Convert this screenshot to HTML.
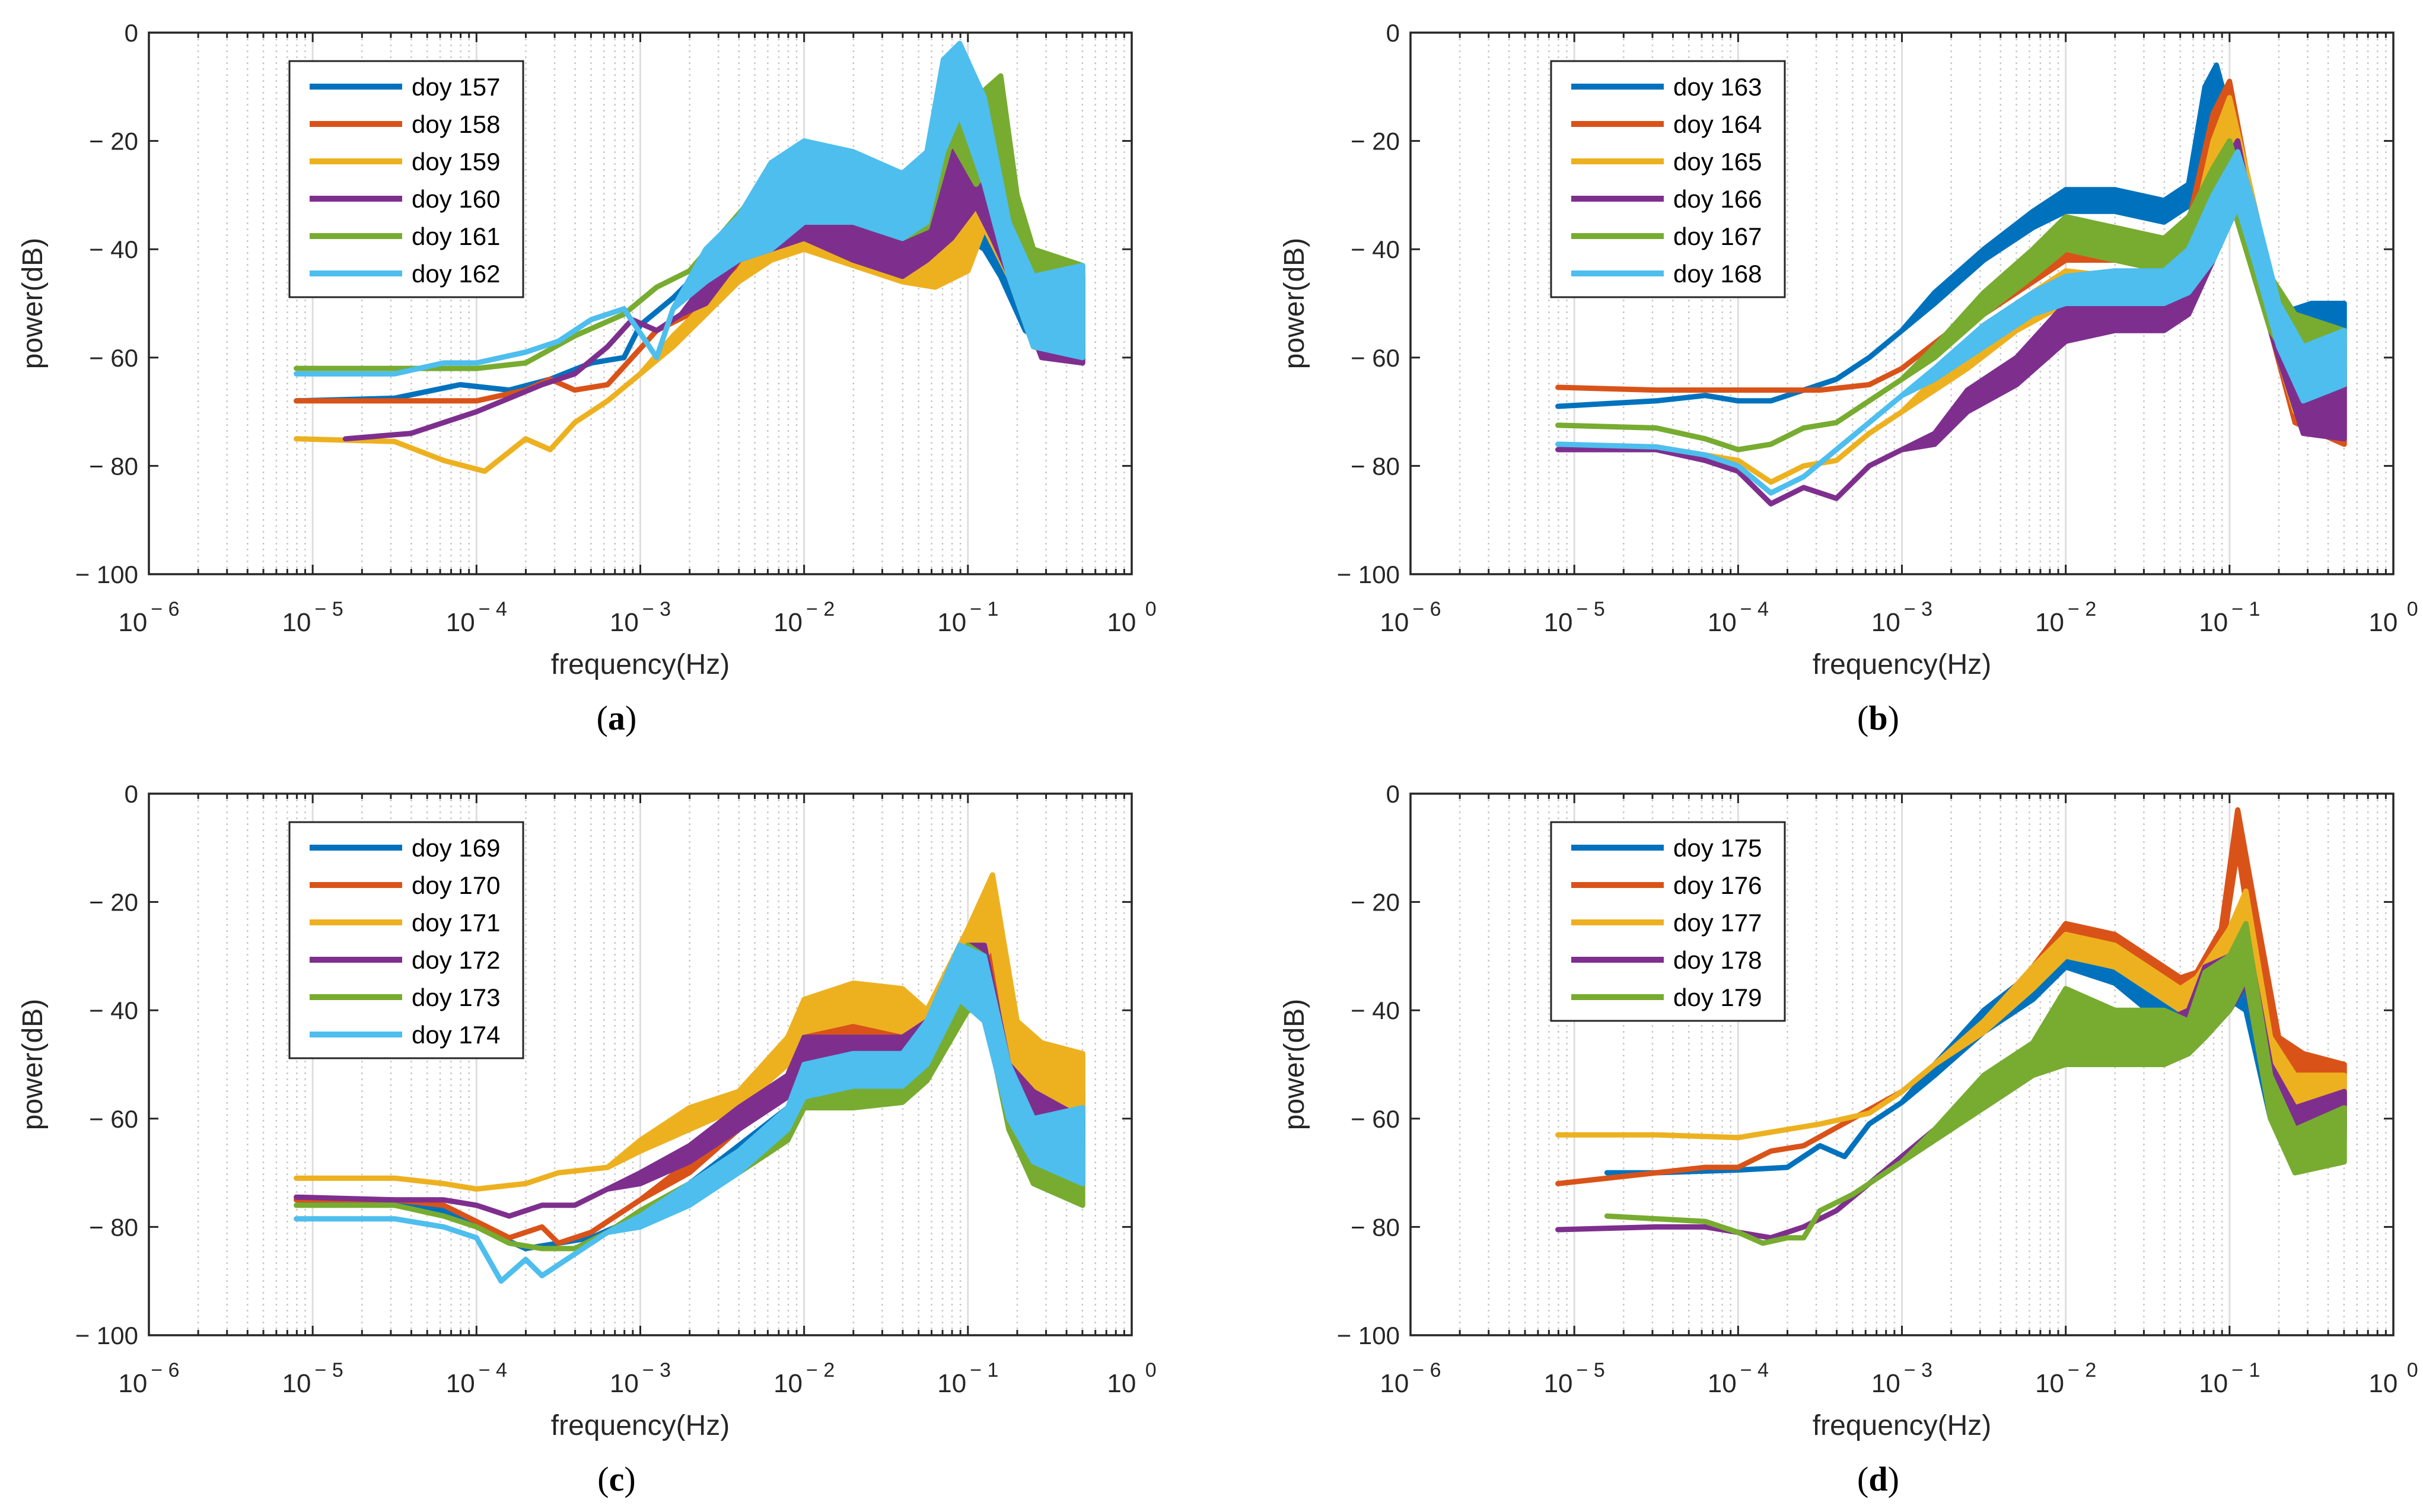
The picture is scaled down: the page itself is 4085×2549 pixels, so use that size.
<!DOCTYPE html>
<html><head><meta charset="utf-8"><style>
html,body{margin:0;padding:0;background:#fff;}
svg{display:block;}
text{font-family:"Liberation Sans",Arial,sans-serif;}
</style></head><body>
<svg id="fig" width="4085" height="2549" viewBox="0 0 4085 2549" xmlns="http://www.w3.org/2000/svg"></svg>
<script>
// Data: each series = list of [log10(freq), upper dB, lower dB]
const colors = ["#0072BD","#D95319","#EDB120","#7E2F8E","#77AC30","#4DBEEE"];
const xTickExps = [-6,-5,-4,-3,-2,-1,0];
const yTicks = [0,-20,-40,-60,-80,-100];
const panelLabels = ["(a)","(b)","(c)","(d)"];
const legendA = ["doy 157","doy 158","doy 159","doy 160","doy 161","doy 162"];
const legendB = ["doy 163","doy 164","doy 165","doy 166","doy 167","doy 168"];
const legendC = ["doy 169","doy 170","doy 171","doy 172","doy 173","doy 174"];
const legendD = ["doy 175","doy 176","doy 177","doy 178","doy 179"];

const seriesA = [
 [[-5.1,-68,-68],[-4.5,-67.5,-67.5],[-4.1,-65,-65],[-3.8,-66,-66],[-3.55,-64,-64],[-3.3,-61,-61],[-3.1,-60,-60],[-3.0,-54,-54],[-2.8,-49,-49],[-2.6,-43,-46],[-2.4,-34,-40],[-2.2,-24,-38],[-2.0,-24,-38],[-1.7,-26,-40],[-1.4,-30,-42],[-1.2,-28,-42],[-1.0,-26,-38],[-0.9,-30,-40],[-0.8,-38,-45],[-0.65,-42,-55],[-0.5,-45,-58],[-0.3,-45,-60]],
 [[-5.1,-68,-68],[-4.5,-68,-68],[-4.0,-68,-68],[-3.7,-66,-66],[-3.55,-64,-64],[-3.4,-66,-66],[-3.2,-65,-65],[-3.05,-60,-60],[-2.9,-55,-55],[-2.7,-52,-52],[-2.5,-44,-48],[-2.3,-34,-42],[-2.1,-28,-40],[-1.8,-28,-40],[-1.5,-30,-44],[-1.3,-32,-44],[-1.1,-28,-40],[-0.95,-22,-36],[-0.8,-20,-32],[-0.7,-35,-42],[-0.6,-45,-55],[-0.3,-45,-61]],
 [[-5.1,-75,-75],[-4.5,-75.5,-75.5],[-4.2,-79,-79],[-3.95,-81,-81],[-3.7,-75,-75],[-3.55,-77,-77],[-3.4,-72,-72],[-3.2,-68,-68],[-3.0,-63,-63],[-2.8,-56,-58],[-2.6,-50,-52],[-2.4,-44,-46],[-2.2,-35,-42],[-2.0,-30,-40],[-1.7,-32,-43],[-1.4,-36,-46],[-1.2,-36,-47],[-1.0,-30,-44],[-0.9,-26,-36],[-0.75,-35,-45],[-0.6,-45,-58],[-0.3,-45,-61]],
 [[-4.8,-75,-75],[-4.4,-74,-74],[-4.0,-70,-70],[-3.6,-65,-65],[-3.4,-63,-63],[-3.2,-58,-58],[-3.05,-53,-53],[-2.9,-55,-55],[-2.75,-52,-52],[-2.6,-46,-50],[-2.4,-36,-42],[-2.2,-28,-40],[-2.0,-26,-38],[-1.7,-28,-42],[-1.4,-32,-45],[-1.25,-28,-42],[-1.1,-22,-38],[-0.95,-20,-32],[-0.85,-28,-38],[-0.7,-40,-48],[-0.55,-45,-60],[-0.3,-45,-61]],
 [[-5.1,-62,-62],[-4.5,-62,-62],[-4.0,-62,-62],[-3.7,-61,-61],[-3.4,-56,-56],[-3.1,-52,-52],[-2.9,-47,-47],[-2.7,-44,-44],[-2.5,-37,-42],[-2.3,-30,-38],[-2.1,-24,-34],[-1.9,-22,-32],[-1.6,-25,-36],[-1.4,-28,-38],[-1.25,-24,-36],[-1.1,-8,-20],[-0.95,-12,-28],[-0.8,-8,-22],[-0.7,-30,-40],[-0.6,-40,-46],[-0.3,-43,-58]],
 [[-5.1,-63,-63],[-4.5,-63,-63],[-4.2,-61,-61],[-4.0,-61,-61],[-3.7,-59,-59],[-3.5,-57,-57],[-3.3,-53,-53],[-3.1,-51,-51],[-2.9,-60,-60],[-2.8,-51,-51],[-2.6,-40,-46],[-2.4,-34,-42],[-2.2,-24,-40],[-2.0,-20,-35],[-1.7,-22,-35],[-1.4,-26,-38],[-1.25,-22,-35],[-1.15,-5,-22],[-1.05,-2,-15],[-0.9,-12,-28],[-0.75,-35,-45],[-0.6,-45,-58],[-0.3,-43,-60]]
];
const seriesB = [
 [[-5.1,-69,-69],[-4.5,-68,-68],[-4.2,-67,-67],[-4.0,-68,-68],[-3.8,-68,-68],[-3.6,-66,-66],[-3.4,-64,-64],[-3.2,-60,-60],[-3.0,-55,-55],[-2.8,-48,-50],[-2.5,-40,-42],[-2.2,-33,-36],[-2.0,-29,-33],[-1.7,-29,-33],[-1.4,-31,-35],[-1.25,-28,-32],[-1.15,-10,-22],[-1.08,-6,-15],[-1.0,-15,-25],[-0.85,-35,-45],[-0.7,-52,-58],[-0.5,-50,-58],[-0.3,-50,-60]],
 [[-5.1,-65.5,-65.5],[-4.5,-66,-66],[-4.0,-66,-66],[-3.5,-66,-66],[-3.2,-65,-65],[-3.0,-62,-62],[-2.7,-55,-55],[-2.5,-50,-52],[-2.2,-42,-46],[-2.0,-36,-42],[-1.7,-36,-42],[-1.4,-38,-43],[-1.25,-35,-42],[-1.1,-15,-30],[-1.0,-9,-20],[-0.9,-25,-35],[-0.75,-45,-55],[-0.6,-58,-72],[-0.3,-58,-76]],
 [[-5.1,-77,-77],[-4.5,-77,-77],[-4.2,-78,-78],[-4.0,-79,-79],[-3.8,-83,-83],[-3.6,-80,-80],[-3.4,-79,-79],[-3.2,-74,-74],[-3.0,-70,-70],[-2.8,-64,-66],[-2.6,-58,-62],[-2.3,-50,-55],[-2.0,-44,-50],[-1.7,-45,-50],[-1.4,-46,-50],[-1.25,-40,-48],[-1.1,-20,-35],[-1.0,-12,-25],[-0.9,-25,-38],[-0.75,-45,-55],[-0.6,-55,-70],[-0.3,-55,-72]],
 [[-5.1,-77,-77],[-4.5,-77,-77],[-4.2,-79,-79],[-4.0,-81,-81],[-3.8,-87,-87],[-3.6,-84,-84],[-3.4,-86,-86],[-3.2,-80,-80],[-3.0,-77,-77],[-2.8,-74,-76],[-2.6,-66,-70],[-2.3,-60,-65],[-2.0,-50,-57],[-1.7,-50,-55],[-1.4,-50,-55],[-1.25,-45,-52],[-1.1,-28,-42],[-0.95,-20,-30],[-0.85,-35,-45],[-0.7,-50,-60],[-0.55,-62,-74],[-0.3,-62,-75]],
 [[-5.1,-72.5,-72.5],[-4.5,-73,-73],[-4.2,-75,-75],[-4.0,-77,-77],[-3.8,-76,-76],[-3.6,-73,-73],[-3.4,-72,-72],[-3.2,-68,-68],[-3.0,-64,-64],[-2.8,-58,-60],[-2.5,-48,-52],[-2.2,-40,-45],[-2.0,-34,-40],[-1.7,-36,-42],[-1.4,-38,-44],[-1.25,-34,-42],[-1.1,-25,-38],[-1.0,-20,-30],[-0.9,-30,-40],[-0.75,-45,-55],[-0.6,-52,-62],[-0.3,-55,-65]],
 [[-5.1,-76,-76],[-4.5,-76.5,-76.5],[-4.2,-78,-78],[-4.0,-80,-80],[-3.8,-85,-85],[-3.6,-82,-82],[-3.4,-77,-77],[-3.2,-72,-72],[-3.0,-67,-67],[-2.8,-62,-64],[-2.5,-54,-58],[-2.2,-48,-52],[-2.0,-45,-50],[-1.7,-44,-50],[-1.4,-44,-50],[-1.25,-40,-48],[-1.1,-30,-42],[-0.95,-22,-32],[-0.85,-32,-42],[-0.7,-50,-58],[-0.55,-58,-68],[-0.3,-55,-65]]
];
const seriesC = [
 [[-5.1,-75,-75],[-4.5,-75.5,-75.5],[-4.2,-77,-77],[-4.0,-80,-80],[-3.7,-84,-84],[-3.5,-83,-83],[-3.3,-82,-82],[-3.0,-78,-78],[-2.7,-72,-72],[-2.4,-65,-67],[-2.1,-58,-60],[-2.0,-52,-56],[-1.7,-48,-54],[-1.4,-48,-54],[-1.25,-44,-50],[-1.0,-28,-38],[-0.9,-30,-40],[-0.75,-52,-60],[-0.6,-55,-62],[-0.3,-55,-65]],
 [[-5.1,-75,-75],[-4.5,-75,-75],[-4.2,-76,-76],[-4.0,-79,-79],[-3.8,-82,-82],[-3.6,-80,-80],[-3.5,-83,-83],[-3.3,-81,-81],[-3.0,-75,-75],[-2.7,-68,-70],[-2.4,-60,-62],[-2.1,-52,-55],[-2.0,-44,-48],[-1.7,-41,-45],[-1.4,-44,-48],[-1.25,-42,-48],[-1.0,-25,-35],[-0.85,-22,-32],[-0.7,-45,-55],[-0.55,-47,-58],[-0.3,-48,-62]],
 [[-5.1,-71,-71],[-4.5,-71,-71],[-4.2,-72,-72],[-4.0,-73,-73],[-3.7,-72,-72],[-3.5,-70,-70],[-3.2,-69,-69],[-3.0,-64,-66],[-2.7,-58,-62],[-2.4,-55,-58],[-2.1,-45,-50],[-2.0,-38,-44],[-1.7,-35,-42],[-1.4,-36,-44],[-1.25,-40,-46],[-1.0,-25,-35],[-0.85,-15,-28],[-0.7,-42,-55],[-0.55,-46,-58],[-0.3,-48,-65]],
 [[-5.1,-74.5,-74.5],[-4.5,-75,-75],[-4.2,-75,-75],[-4.0,-76,-76],[-3.8,-78,-78],[-3.6,-76,-76],[-3.4,-76,-76],[-3.2,-73,-73],[-3.0,-70,-72],[-2.7,-65,-68],[-2.4,-58,-62],[-2.1,-52,-56],[-2.0,-45,-50],[-1.7,-45,-52],[-1.4,-45,-52],[-1.25,-42,-50],[-1.0,-28,-38],[-0.9,-28,-38],[-0.75,-50,-58],[-0.6,-55,-65],[-0.3,-60,-72]],
 [[-5.1,-76,-76],[-4.5,-76,-76],[-4.2,-78,-78],[-4.0,-80,-80],[-3.8,-83,-83],[-3.6,-84,-84],[-3.4,-84,-84],[-3.2,-81,-81],[-3.0,-77,-79],[-2.7,-72,-75],[-2.4,-66,-70],[-2.1,-60,-64],[-2.0,-53,-58],[-1.7,-52,-58],[-1.4,-52,-57],[-1.25,-45,-53],[-1.0,-28,-40],[-0.9,-30,-40],[-0.75,-55,-62],[-0.6,-62,-72],[-0.3,-65,-76]],
 [[-5.1,-78.5,-78.5],[-4.5,-78.5,-78.5],[-4.2,-80,-80],[-4.0,-82,-82],[-3.85,-90,-90],[-3.7,-86,-86],[-3.6,-89,-89],[-3.4,-85,-85],[-3.2,-81,-81],[-3.0,-78,-80],[-2.7,-72,-76],[-2.4,-66,-70],[-2.1,-58,-62],[-2.0,-50,-56],[-1.7,-48,-54],[-1.4,-48,-54],[-1.25,-42,-50],[-1.05,-28,-38],[-0.9,-30,-42],[-0.75,-50,-60],[-0.6,-60,-68],[-0.3,-58,-72]]
];
const seriesD = [
 [[-4.8,-70,-70],[-4.5,-70,-70],[-4.0,-69.5,-69.5],[-3.7,-69,-69],[-3.5,-65,-65],[-3.35,-67,-67],[-3.2,-61,-61],[-3.0,-57,-57],[-2.8,-50,-52],[-2.5,-40,-44],[-2.2,-33,-38],[-2.0,-28,-32],[-1.7,-30,-35],[-1.5,-36,-40],[-1.3,-40,-44],[-1.2,-35,-43],[-1.0,-32,-38],[-0.9,-35,-40],[-0.75,-55,-60],[-0.6,-56,-62],[-0.3,-55,-62]],
 [[-5.1,-72,-72],[-4.5,-70,-70],[-4.2,-69,-69],[-4.0,-69,-69],[-3.8,-66,-66],[-3.6,-65,-65],[-3.3,-60,-60],[-3.0,-55,-55],[-2.8,-50,-50],[-2.5,-42,-44],[-2.2,-32,-35],[-2.0,-24,-27],[-1.7,-26,-30],[-1.5,-30,-34],[-1.3,-34,-38],[-1.2,-33,-37],[-1.05,-25,-30],[-0.95,-3,-10],[-0.85,-20,-30],[-0.7,-45,-50],[-0.55,-48,-54],[-0.3,-50,-58]],
 [[-5.1,-63,-63],[-4.5,-63,-63],[-4.0,-63.5,-63.5],[-3.7,-62,-62],[-3.5,-61,-61],[-3.2,-59,-59],[-3.0,-55,-55],[-2.8,-50,-50],[-2.5,-42,-44],[-2.2,-32,-36],[-2.0,-26,-30],[-1.7,-28,-32],[-1.5,-32,-36],[-1.3,-36,-40],[-1.2,-34,-40],[-1.0,-25,-32],[-0.9,-18,-28],[-0.75,-45,-52],[-0.6,-52,-57],[-0.3,-52,-60]],
 [[-5.1,-80.5,-80.5],[-4.5,-80,-80],[-4.2,-80,-80],[-4.0,-81,-81],[-3.8,-82,-82],[-3.6,-80,-80],[-3.4,-77,-77],[-3.2,-72,-72],[-3.0,-67,-67],[-2.8,-62,-62],[-2.5,-55,-58],[-2.2,-48,-52],[-2.0,-38,-48],[-1.7,-40,-50],[-1.4,-42,-50],[-1.25,-40,-48],[-1.15,-32,-45],[-1.0,-30,-40],[-0.9,-25,-35],[-0.75,-50,-58],[-0.6,-58,-62],[-0.3,-55,-64]],
 [[-4.8,-78,-78],[-4.5,-78.5,-78.5],[-4.2,-79,-79],[-4.0,-81,-81],[-3.85,-83,-83],[-3.7,-82,-82],[-3.6,-82,-82],[-3.5,-77,-77],[-3.3,-74,-74],[-3.0,-68,-68],[-2.8,-62,-64],[-2.5,-52,-58],[-2.2,-46,-52],[-2.0,-36,-50],[-1.7,-40,-50],[-1.4,-40,-50],[-1.25,-42,-48],[-1.15,-33,-45],[-1.0,-30,-40],[-0.9,-24,-34],[-0.75,-52,-60],[-0.6,-62,-70],[-0.3,-58,-68]]
];

const NS = "http://www.w3.org/2000/svg";
const svg = document.getElementById("fig");
function mk(tag, attrs, parent){
  const e = document.createElementNS(NS, tag);
  for (const k in attrs) e.setAttribute(k, attrs[k]);
  (parent||svg).appendChild(e);
  return e;
}
const W = 1657, H = 913;

function drawPanel(ox, oy, series, labels, plabel, pname){
  const g = mk("g", {});
  
  
  const xs = v => ox + (v + 6) / 6 * W;
  const ys = v => oy + (0 - v) / 100 * H;
  const grid = mk("g", {}, g);
  
  
  for (let d = -6; d < 0; d++){
    for (let m = 2; m <= 9; m++){
      const x = xs(d + Math.log10(m));
      mk("line", {x1:x, y1:oy, x2:x, y2:oy+H, stroke:"#c8c8c8", "stroke-width":2.5, "stroke-dasharray":"3 7"}, grid);
    }
    if (d > -6){ const x = xs(d); mk("line", {x1:x, y1:oy, x2:x, y2:oy+H, stroke:"#dedede", "stroke-width":3}, grid); }
  }
  series.forEach((s, i) => {
    const up = s.map(p => xs(p[0]).toFixed(1) + "," + ys(p[1]).toFixed(1));
    const lo = s.slice().reverse().map(p => xs(p[0]).toFixed(1) + "," + ys(p[2]).toFixed(1));
    const poly = mk("polygon", {points: up.concat(lo).join(" "), fill: colors[i], stroke: colors[i], "stroke-width": 9, "stroke-linejoin":"round"}, g);
    
    
  });
  const box = mk("rect", {x:ox, y:oy, width:W, height:H, fill:"none", stroke:"#262626", "stroke-width":3.5}, g);
  
  
  for (let d = -6; d <= 0; d++){
    for (let m = 1; m <= 9; m++){
      if (d === 0 && m > 1) break;
      const x = xs(d + Math.log10(m));
      const len = m === 1 ? 16 : 9;
      mk("line", {x1:x, y1:oy+H, x2:x, y2:oy+H-len, stroke:"#262626", "stroke-width":3}, g);
      mk("line", {x1:x, y1:oy, x2:x, y2:oy+len, stroke:"#262626", "stroke-width":3}, g);
    }
  }
  xTickExps.forEach(e => {
    const t = mk("text", {x: xs(e), y: oy + H + 96, "text-anchor":"middle", "font-size":44, fill:"#262626"}, g);
    
    
    const a = mk("tspan", {}, t); a.textContent = "10";
    const b = mk("tspan", {dy:-26, "font-size":34, dx:6}, t); b.textContent = (e < 0 ? "\u2212" : "") + " " + Math.abs(e);
  });
  yTicks.forEach(v => {
    const y = ys(v);
    mk("line", {x1:ox, y1:y, x2:ox+16, y2:y, stroke:"#262626", "stroke-width":3}, g);
    mk("line", {x1:ox+W, y1:y, x2:ox+W-16, y2:y, stroke:"#262626", "stroke-width":3}, g);
    const t = mk("text", {x: ox - 18, y: y + 15, "text-anchor":"end", "font-size":42, fill:"#262626"}, g);
    
    
    t.textContent = v === 0 ? "0" : "\u2212 " + Math.abs(v);
  });
  const xt = mk("text", {x: ox + W/2, y: oy + H + 168, "text-anchor":"middle", "font-size":48, fill:"#262626"}, g);
  
  
  xt.textContent = "frequency(Hz)";
  const yt = mk("text", {x: 0, y: 0, "text-anchor":"middle", "font-size":48, fill:"#262626", transform:"translate(" + (ox - 180) + "," + (oy + H/2) + ") rotate(-90)"}, g);
  
  
  yt.textContent = "power(dB)";
  const pl = mk("text", {x: ox + W/2 - 40, y: oy + H + 262, "text-anchor":"middle", "font-size":58, fill:"#000", style:"font-family:'Liberation Serif',serif"}, g);
  
  
  pl.textContent = "(";
  const bb = mk("tspan", {"font-weight":"bold"}, pl); bb.textContent = plabel.slice(1, -1);
  const cl = mk("tspan", {}, pl); cl.textContent = ")";
  const lx = ox + 237, ly = oy + 48, lh = 63, lw = 394;
  const lg = mk("g", {}, g);
  
  
  mk("rect", {x:lx, y:ly, width:lw, height: labels.length * lh + 20, fill:"#fff", stroke:"#262626", "stroke-width":3}, lg);
  labels.forEach((lab, i) => {
    const cy = ly + 43 + i * lh;
    const ln = mk("line", {x1:lx+34, y1:cy, x2:lx+190, y2:cy, stroke:colors[i], "stroke-width":10}, lg);
    
    
    const t = mk("text", {x:lx+206, y:cy+15, "font-size":42, fill:"#000"}, lg);
    
    
    t.textContent = lab;
  });
}
drawPanel(251, 55, seriesA, legendA, panelLabels[0], "panel-a");
drawPanel(2378, 55, seriesB, legendB, panelLabels[1], "panel-b");
drawPanel(251, 1338, seriesC, legendC, panelLabels[2], "panel-c");
drawPanel(2378, 1338, seriesD, legendD, panelLabels[3], "panel-d");
</script>
</body></html>
